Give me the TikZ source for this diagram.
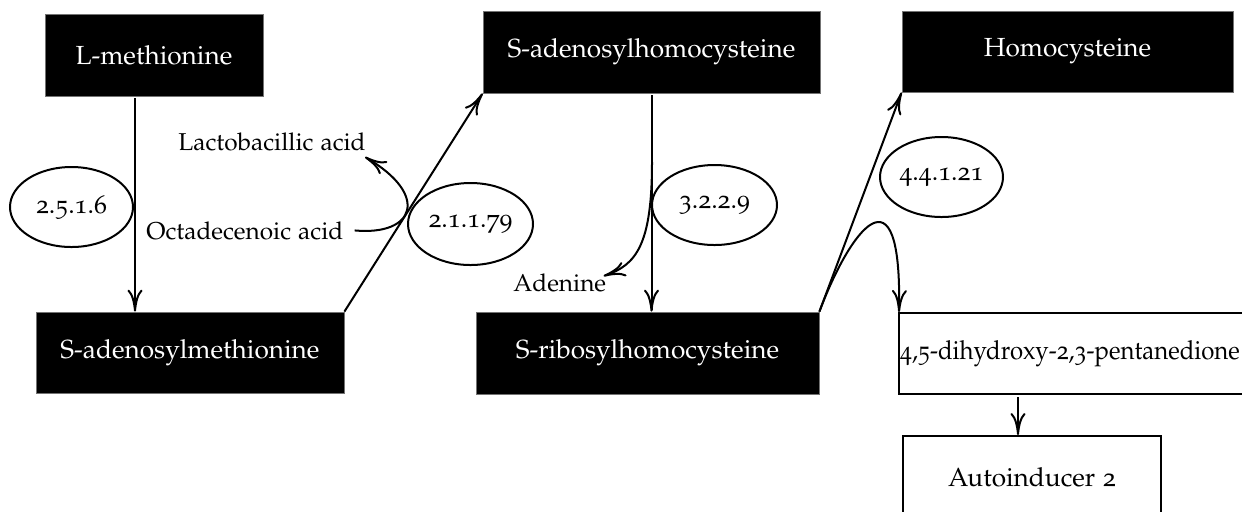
\documentclass[tikz,border=0pt]{standalone}
\usepackage[T1]{fontenc}
\usepackage[osf]{mathpazo}
\usetikzlibrary{arrows.meta,shapes.geometric}
\begin{document}
\begin{tikzpicture}[x=0.5pt,y=-0.5pt,
  compound/.style={rectangle, fill=black, draw=black!55, line width=0.4pt,
    text=white, inner sep=0pt, font=\fontsize{13.1}{15}\selectfont},
  product/.style={rectangle, fill=white, draw=black, line width=1pt,
    inner sep=0pt, font=\fontsize{13.1}{15}\selectfont},
  enzyme/.style={ellipse, draw=black, line width=1pt, fill=white,
    inner sep=0pt, font=\fontsize{12.9}{15}\selectfont},
  side/.style={inner sep=0pt, font=\fontsize{12.2}{14}\selectfont},
  flow/.style={line width=1pt, -{To[length=11pt,width=7.5pt]}}
]
\useasboundingbox (0,0) rectangle (1242,511);

% metabolites
\node[compound, minimum width=109pt, minimum height=41pt] (met) at (154,55) {L-methionine};
\node[compound, minimum width=154pt, minimum height=40.5pt] (sam) at (190,352.5) {S-adenosylmethionine};
\node[compound, minimum width=168.5pt, minimum height=41pt] (sah) at (651.5,52) {S-adenosylhomocysteine};
\node[compound, minimum width=171.5pt, minimum height=41pt] (srh) at (647.5,353) {S-ribosylhomocysteine};
\node[compound, minimum width=165.5pt, minimum height=40.5pt] (hcy) at (1067.5,51.5) {Homocysteine};
\node[product, minimum width=173pt, minimum height=40.5pt] (dpd) at (1072,353.5)
  {\hspace*{-2pt}\scalebox{0.915}[1]{4,5-dihydroxy-2,3-pentanedione}};
\node[product, minimum width=129pt, minimum height=41pt] (ai) at (1032,477) {Autoinducer 2};

% side substrates and products
\node[side, anchor=base east] (lac) at (366,150) {Lactobacillic acid};
\node[side, anchor=base west] (oct) at (146,239) {Octadecenoic acid};
\node[side, anchor=base west] (ade) at (513,291) {Adenine};

% main reactions
\draw[flow] ([xshift=-9.5pt,yshift=-1pt]met.south) -- ([xshift=-9.5pt]met.south |- sam.north);
\draw[flow] (sam.north east) -- (sah.south west);
\draw[flow] ([yshift=-1pt]sah.south) -- (sah.south |- srh.north);
\draw[flow] (srh.north east) -- (hcy.south west);
\draw[flow] (srh.north east) .. controls (850,230) and (902,160) .. ([xshift=0.5pt]dpd.north west);
\draw[flow] ([xshift=-27pt,yshift=-1pt]dpd.south) -- ([xshift=-27pt]dpd.south |- ai.north);

% side reactions
\draw[flow] ([xshift=5.5pt]oct.east) .. controls (415,236) and (430,195) .. ([xshift=-0.5pt,yshift=-3.5pt]lac.base east);
\coordinate (adesplit) at (652,162);
\draw[flow] (adesplit) .. controls (652,245) and (636,265) .. ([xshift=-1.5pt,yshift=7.5pt]ade.base east);

% enzymes
\node[enzyme, minimum width=61.5pt, minimum height=40pt] (e1) at (71.5,207) {2.5.1.6};
\node[enzyme, minimum width=62.5pt, minimum height=41pt] (e2) at (470.5,224) {2.1.1.79};
\node[enzyme, minimum width=62.5pt, minimum height=40pt] (e3) at (714.5,205) {3.2.2.9};
\node[enzyme, minimum width=61.5pt, minimum height=40pt] (e4) at (941.5,177) {4.4.1.21};
\end{tikzpicture}
\end{document}
